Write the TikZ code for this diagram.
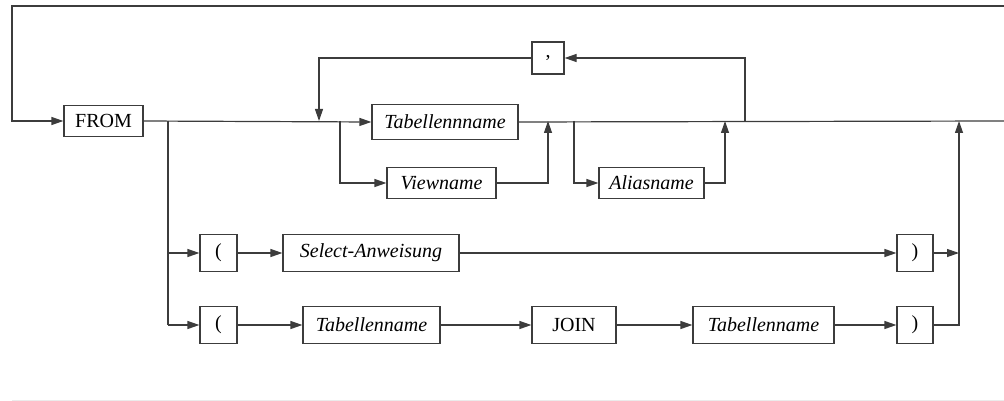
\documentclass[tikz,border=0pt]{standalone}
\usepackage{fontspec}
\setmainfont{Liberation Serif}
\usepackage{xcolor}
\usepackage{tikz}
\usetikzlibrary{arrows.meta}
\definecolor{wire}{HTML}{3C3C3C}
\definecolor{rule}{HTML}{EBEBEB}
\tikzset{
  ln/.style={line width=1.2pt, draw=wire},
  arr/.style={ln, -{Triangle[length=12pt,width=8pt]}},
  term/.style={draw=wire, line width=1.2pt, fill=white, inner sep=0pt,
    font=\fontsize{20}{24}\selectfont},
  nterm/.style={term, font=\fontsize{20}{24}\selectfont\itshape}
}

\begin{document}
\begin{tikzpicture}[x=1pt,y=-1pt]
  \useasboundingbox (0,0) rectangle (1004,401);

  % boxes
  \node[term, minimum width=79pt, minimum height=31pt] (from) at (103.5,121) {FROM};
  \node[nterm, minimum width=146pt, minimum height=35pt] (tab) at (445,122) {Tabellennname};
  \node[nterm, minimum width=109pt, minimum height=31pt] (view) at (441.5,183) {Viewname};
  \node[nterm, minimum width=105pt, minimum height=31pt] (alias) at (651.5,183) {Aliasname};
  \node[term, minimum width=32pt, minimum height=32pt] (comma) at (548,58) {,};
  \node[term, minimum width=37pt, minimum height=37pt] (lpA) at (218.5,253) {(};
  \node[nterm, minimum width=176pt, minimum height=37pt] (sel) at (371,253) {Select-Anweisung};
  \node[term, minimum width=36pt, minimum height=37pt] (rpA) at (915,253) {)};
  \node[term, minimum width=37pt, minimum height=37pt] (lpB) at (218.5,325) {(};
  \node[nterm, minimum width=137pt, minimum height=37pt] (tabL) at (371.5,325) {Tabellenname};
  \node[term, minimum width=84pt, minimum height=37pt] (join) at (574,325) {JOIN};
  \node[nterm, minimum width=141pt, minimum height=37pt] (tabR) at (763.5,325) {Tabellenname};
  \node[term, minimum width=36pt, minimum height=37pt] (rpB) at (915,325) {)};

  \coordinate (topR) at (1004,6);
  \coordinate (topL) at (12,6);
  \coordinate (endR) at (1004,121);
  \coordinate (brA) at (168,121);
  \coordinate (brB) at (168,325);
  \coordinate (loopIn) at (319,121);
  \coordinate (loopOut) at (745,121);
  \coordinate (viewIn) at (340,121);
  \coordinate (viewOut) at (548,121);
  \coordinate (aliasIn) at (574,121);
  \coordinate (aliasOut) at (725,121);
  \coordinate (subOut) at (959,121);
  \coordinate (subA) at (959,253);

  % main path
  \draw[arr] (topR) -- (topL) |- (from.west);
  \draw[arr] (from.east) -- (tab.west);
  \draw[ln] (tab.east) -- (endR);

  % repeat with comma
  \draw[arr] (loopOut) |- (comma.east);
  \draw[arr] (comma.west) -| (loopIn);

  % view and alias
  \draw[arr] (viewIn) |- (view.west);
  \draw[arr] (view.east) -| (viewOut);
  \draw[arr] (aliasIn) |- (alias.west);
  \draw[arr] (alias.east) -| (aliasOut);

  % subqueries
  \draw[ln] (brA) -- (brB);
  \draw[arr] (brA) |- (lpA.west);
  \draw[arr] (brB) -- (lpB.west);
  \draw[arr] (lpA) -- (sel);
  \draw[arr] (sel) -- (rpA);
  \draw[arr] (rpA.east) -- (subA);
  \draw[arr] (lpB) -- (tabL);
  \draw[arr] (tabL) -- (join);
  \draw[arr] (join) -- (tabR);
  \draw[arr] (tabR) -- (rpB);
  \draw[arr] (rpB.east) -| (subOut);

  \draw[rule, line width=1pt] (12,400) -- (1004,400);
\end{tikzpicture}
\end{document}
